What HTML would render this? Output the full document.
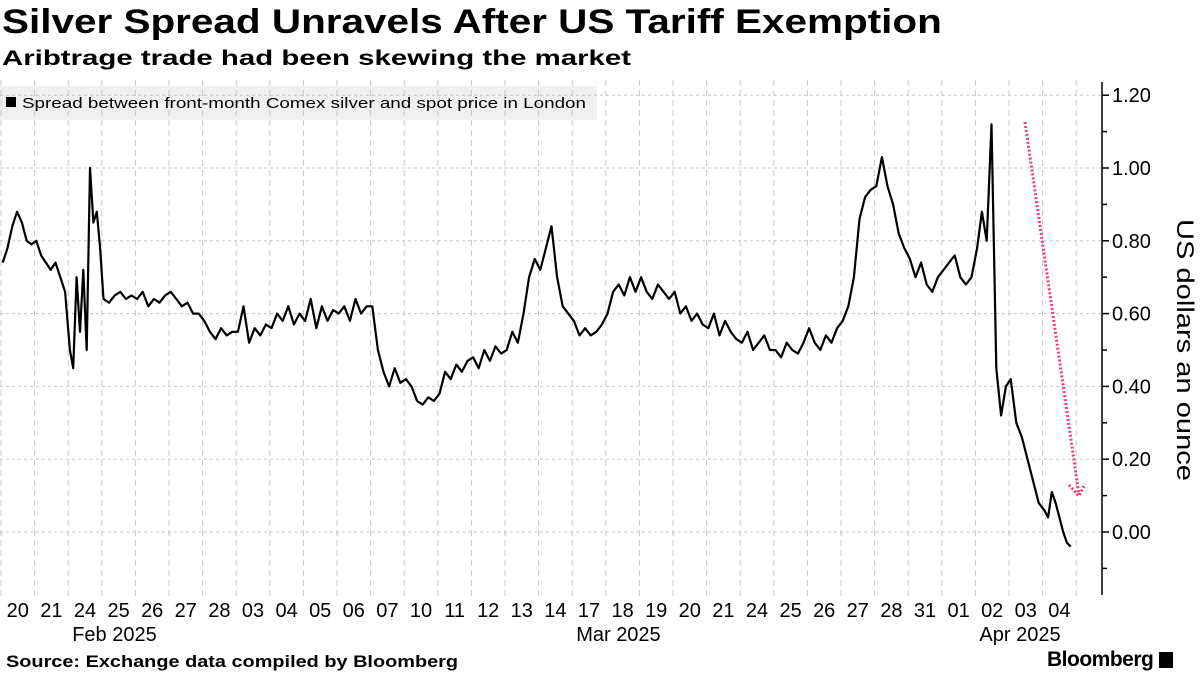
<!DOCTYPE html>
<html><head><meta charset="utf-8"><style>
body{margin:0;width:1200px;height:675px;background:#fff;font-family:"Liberation Sans","DejaVu Sans",sans-serif;overflow:hidden;position:relative}
.t{position:absolute;left:2px;top:3px;font-size:34px;font-weight:bold;color:#000;transform-origin:0 0;transform:scaleX(1.19);white-space:nowrap}
.s{position:absolute;left:2px;top:47px;font-size:21px;font-weight:bold;color:#000;transform-origin:0 0;transform:scaleX(1.4);white-space:nowrap}
.src{position:absolute;left:6px;top:652px;font-size:17px;font-weight:bold;transform-origin:0 0;transform:scaleX(1.17);white-space:nowrap}
.logo{position:absolute;left:1047px;top:648px;font-size:21px;font-weight:bold;letter-spacing:-0.5px}
</style></head><body>
<div class="t">Silver Spread Unravels After US Tariff Exemption</div>
<div class="s">Aribtrage trade had been skewing the market</div>
<svg id="c" width="1200" height="675" style="position:absolute;left:0;top:0"></svg>
<div class="src">Source: Exchange data compiled by Bloomberg</div>
<div class="logo">Bloomberg <span style="display:inline-block;width:14px;height:16px;background:#000;vertical-align:-2px"></span></div>
<script>
const dayLabels=["20","21","24","25","26","27","28","03","04","05","06","07","10","11","12","13","14","17","18","19","20","21","24","25","26","27","28","31","01","02","03","04"];
const monthLabels=[{i:2,t:"Feb 2025"},{i:17,t:"Mar 2025"},{i:29,t:"Apr 2025"}];
const yTicks=[0,0.2,0.4,0.6,0.8,1.0,1.2];
// values for each trading day (spread evenly within the day)
const dayValues=[
[0.74,0.78,0.84,0.88,0.85,0.80,0.79],
[0.80,0.76,0.74,0.72,0.74,0.70,0.66],
[0.50,0.45,0.70,0.55,0.72,0.50,1.00,0.85,0.88,0.78],
[0.64,0.63,0.65,0.66,0.64,0.65],
[0.64,0.66,0.62,0.64,0.63,0.65],
[0.66,0.64,0.62,0.63,0.60,0.60],
[0.58,0.55,0.53,0.56,0.54,0.55],
[0.55,0.62,0.52,0.56,0.54,0.57],
[0.56,0.60,0.58,0.62,0.57,0.60],
[0.58,0.64,0.56,0.62,0.58,0.61],
[0.60,0.62,0.58,0.64,0.60,0.62],
[0.62,0.50,0.44,0.40,0.45,0.41],
[0.42,0.40,0.36,0.35,0.37,0.36],
[0.38,0.44,0.42,0.46,0.44,0.47],
[0.48,0.45,0.50,0.47,0.51,0.49],
[0.50,0.55,0.52,0.60,0.70,0.75],
[0.72,0.78,0.84,0.70,0.62,0.60],
[0.58,0.54,0.56,0.54,0.55,0.57],
[0.60,0.66,0.68,0.65,0.70,0.66],
[0.70,0.66,0.64,0.68,0.66,0.64],
[0.66,0.60,0.62,0.58,0.60,0.57],
[0.56,0.60,0.54,0.58,0.55,0.53],
[0.52,0.55,0.50,0.52,0.54,0.50],
[0.50,0.48,0.52,0.50,0.49,0.52],
[0.56,0.52,0.50,0.54,0.52,0.56],
[0.58,0.62,0.70,0.86,0.92,0.94],
[0.95,1.03,0.95,0.90,0.82,0.78],
[0.75,0.70,0.74,0.68,0.66,0.70],
[0.72,0.74,0.76,0.70,0.68,0.70],
[0.78,0.88,0.80,1.12,0.45,0.32,0.40],
[0.42,0.30,0.26,0.20,0.14,0.08],
[0.06,0.04,0.11,0.08,0.04,0.00,-0.03,-0.04]
];
const NS="http://www.w3.org/2000/svg";
const svg=document.getElementById('c');
const x0=1,dw=33.6,yZero=532,yPer=364,axisX=1102;
const xs=t=>x0+t*dw;
const ys=v=>yZero-v*yPer;
function mk(tag,a){const e=document.createElementNS(NS,tag);for(const k in a)e.setAttribute(k,a[k]);svg.appendChild(e);return e;}
let e=mk('rect',{x:0,y:86,width:597,height:34,fill:'#f0f0f0'});


for(let i=0;i<=dayLabels.length;i++){
 e=mk('line',{x1:xs(i),x2:xs(i),y1:80,y2:600,stroke:'#c8c8c8','stroke-dasharray':'6,4','stroke-width':1});
 
 
}
yTicks.forEach(v=>{
 e=mk('line',{x1:0,x2:axisX,y1:ys(v),y2:ys(v),stroke:'#c8c8c8','stroke-dasharray':'3,3','stroke-width':1});
 
 
});
e=mk('rect',{x:6,y:97,width:10,height:10,fill:'#000'});


e=mk('text',{x:22,y:108,'font-size':15,fill:'#000',textLength:564,lengthAdjust:'spacingAndGlyphs'});e.textContent='Spread between front-month Comex silver and spot price in London';


e=mk('line',{x1:axisX,x2:axisX,y1:82,y2:595,stroke:'#000','stroke-width':1.5});


for(let k=-1;k<=12;k++){
 const v=k/10;
 e=mk('line',{x1:axisX,x2:axisX+(k%2===0?7:5),y1:ys(v),y2:ys(v),stroke:'#000','stroke-width':1.5});
 
 
}
yTicks.forEach(v=>{
 e=mk('text',{x:axisX+10,y:ys(v)+7,'font-size':20,fill:'#000'});e.textContent=v.toFixed(2);
 
 
});
e=mk('text',{x:0,y:0,'font-size':24,fill:'#000','text-anchor':'middle',textLength:262,lengthAdjust:'spacingAndGlyphs',transform:'translate(1177,350) rotate(90)'});e.textContent='US dollars an ounce';


dayLabels.forEach((d,i)=>{
 e=mk('text',{x:xs(i+0.5),y:617,'font-size':20,fill:'#000','text-anchor':'middle'});e.textContent=d;
 
 
});
monthLabels.forEach(m=>{
 e=mk('text',{x:xs(m.i)+4,y:641,'font-size':20,fill:'#000'});e.textContent=m.t;
 
 
});
const pts=[];
dayValues.forEach((arr,d)=>{
 const last=(d===dayValues.length-1);
 const span=last?0.9:1;
 arr.forEach((v,j)=>{pts.push(xs(d+span*j/arr.length+(last?0.05:0.05)).toFixed(1)+','+ys(v).toFixed(1));});
});
e=mk('polyline',{points:pts.join(' '),fill:'none',stroke:'#000','stroke-width':2.2,'stroke-linejoin':'round'});


e=mk('path',{d:'M1025,122 L1079,495 M1069,485 L1079,496 L1085,484',fill:'none',stroke:'#e8426a','stroke-width':3,'stroke-dasharray':'2,2'});


</script>
</body></html>
